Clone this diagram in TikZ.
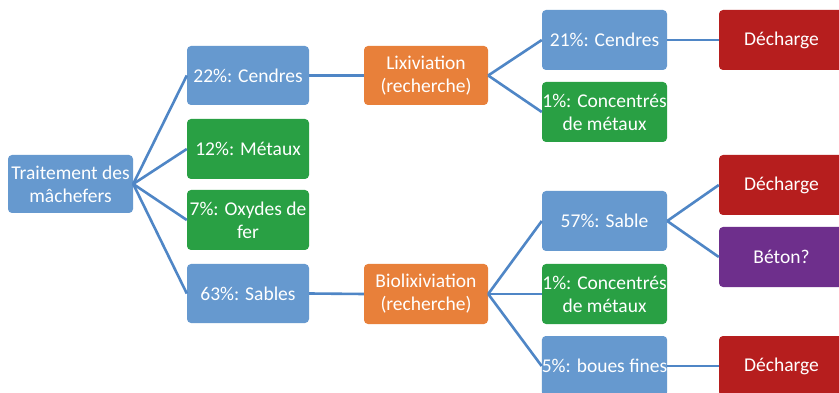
\documentclass[tikz,border=0pt]{standalone}
\usepackage{fontspec}
\setmainfont{Carlito}
\definecolor{cblue}{HTML}{6699CF}
\definecolor{cgreen}{HTML}{29A044}
\definecolor{corange}{HTML}{E8803A}
\definecolor{cred}{HTML}{B61E1E}
\definecolor{cpurple}{HTML}{6E2F8C}
\definecolor{cline}{HTML}{4F86C6}
\begin{document}
\begin{tikzpicture}[x=1pt,y=-1pt,
  box/.style={rounded corners=4pt, text=white, align=center, inner sep=0pt,
    minimum width=124pt, minimum height=59pt,
    font=\fontsize{19.5}{23}\selectfont},
  bluebox/.style={box, fill=cblue},
  greenbox/.style={box, fill=cgreen},
  orangebox/.style={box, fill=corange},
  redbox/.style={box, fill=cred},
  purplebox/.style={box, fill=cpurple},
  conn/.style={draw=cline, line width=2.6pt}]
\clip (0,0) rectangle (839,393);
\fill[white] (0,0) rectangle (839,393);
\node[bluebox, minimum width=125pt, minimum height=58pt] (T) at (70.5,184) {Traitement des\\mâchefers};
\node[bluebox, minimum width=122pt] (C22) at (248,75.5) {22\%: Cendres};
\node[greenbox, minimum width=122pt, minimum height=60pt] (M12) at (248,149) {12\%: Métaux};
\node[greenbox, minimum width=122pt, minimum height=60pt] (O7) at (248,220) {7\%: Oxydes de\\fer};
\node[bluebox, minimum width=122pt] (S63) at (248,293.5) {63\%: Sables};
\node[orangebox] (Lix) at (426,75.5) {Lixiviation\\(recherche)};
\node[orangebox, minimum height=60pt] (Bio) at (426,294) {Biolixiviation\\(recherche)};
\node[bluebox, minimum width=125pt, minimum height=60pt] (C21) at (604.5,40) {21\%: Cendres};
\node[greenbox, minimum width=125pt, minimum height=60pt] (CM1) at (604.5,112) {1\%: Concentrés\\de métaux};
\node[bluebox, minimum width=125pt, minimum height=60pt] (S57) at (604.5,221) {57\%: Sable};
\node[greenbox, minimum width=125pt, minimum height=60pt] (CM2) at (604.5,294) {1\%: Concentrés\\de métaux};
\node[bluebox, minimum width=125pt, minimum height=60pt] (B5) at (604.5,366) {5\%: boues fines};
\node[redbox, minimum width=125pt, minimum height=60pt] (D1) at (781.5,40) {Décharge};
\node[redbox, minimum width=125pt, minimum height=60pt] (D2) at (781.5,185) {Décharge};
\node[purplebox, minimum width=125pt, minimum height=60pt] (Bet) at (781.5,257) {Béton?};
\node[redbox, minimum width=125pt, minimum height=60pt] (D3) at (781.5,366) {Décharge};
\draw[conn] (T.east) -- (C22.west);
\draw[conn] (T.east) -- (M12.west);
\draw[conn] (T.east) -- (O7.west);
\draw[conn] (T.east) -- (S63.west);
\draw[conn] (C22.east) -- (Lix.west);
\draw[conn] (S63.east) -- (Bio.west);
\draw[conn] (Lix.east) -- (C21.west);
\draw[conn] (Lix.east) -- (CM1.west);
\draw[conn] (Bio.east) -- (S57.west);
\draw[conn] (Bio.east) -- (CM2.west);
\draw[conn] (Bio.east) -- (B5.west);
\draw[conn] (C21.east) -- (D1.west);
\draw[conn] (S57.east) -- (D2.west);
\draw[conn] (S57.east) -- (Bet.west);
\draw[conn] (B5.east) -- (D3.west);
\end{tikzpicture}
\end{document}
